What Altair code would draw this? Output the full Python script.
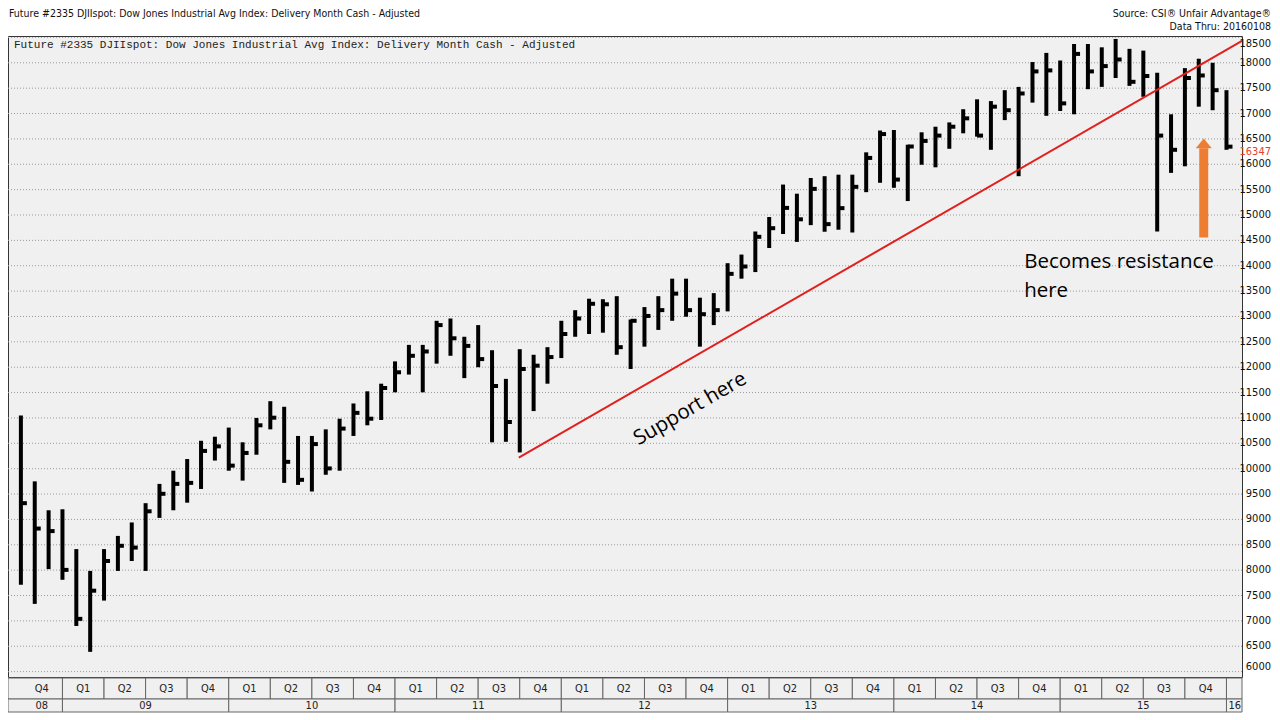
import altair as alt
import pandas as pd

# ---------------- data ----------------
months = [
    "2008-10", "2008-11", "2008-12",
    "2009-01", "2009-02", "2009-03", "2009-04", "2009-05", "2009-06",
    "2009-07", "2009-08", "2009-09", "2009-10", "2009-11", "2009-12",
    "2010-01", "2010-02", "2010-03", "2010-04", "2010-05", "2010-06",
    "2010-07", "2010-08", "2010-09", "2010-10", "2010-11", "2010-12",
    "2011-01", "2011-02", "2011-03", "2011-04", "2011-05", "2011-06",
    "2011-07", "2011-08", "2011-09", "2011-10", "2011-11", "2011-12",
    "2012-01", "2012-02", "2012-03", "2012-04", "2012-05", "2012-06",
    "2012-07", "2012-08", "2012-09", "2012-10", "2012-11", "2012-12",
    "2013-01", "2013-02", "2013-03", "2013-04", "2013-05", "2013-06",
    "2013-07", "2013-08", "2013-09", "2013-10", "2013-11", "2013-12",
    "2014-01", "2014-02", "2014-03", "2014-04", "2014-05", "2014-06",
    "2014-07", "2014-08", "2014-09", "2014-10", "2014-11", "2014-12",
    "2015-01", "2015-02", "2015-03", "2015-04", "2015-05", "2015-06",
    "2015-07", "2015-08", "2015-09", "2015-10", "2015-11", "2015-12",
    "2016-01",
]
highs = [
    11050, 9750, 9180,
    9200, 8415, 7985, 8415, 8675, 8940, 9320, 9700, 9960, 10190, 10550, 10630,
    10810, 10520, 11000, 11330, 11220, 10645, 10645, 10775, 10985, 11285, 11525, 11675,
    12115, 12440, 12440, 12915, 12960, 12600, 12830, 12335, 11770, 12355, 12245, 12395,
    12915, 13124, 13350, 13340, 13400, 12940, 13185, 13400, 13745, 13745, 13370, 13460,
    14050, 14220, 14675, 14960, 15600, 15420, 15730, 15765, 15795, 15795, 16235, 16665,
    16675, 16385, 16630, 16740, 16825, 17085, 17280, 17245, 17460, 17525, 18015, 18195,
    18045, 18370, 18370, 18305, 18470, 18275, 18240, 17805, 16985, 17895, 18080, 18000,
    17460,
]
lows = [
    7710, 7335, 8020,
    7810, 6900, 6390, 7400, 7985, 8180, 7985, 9030, 9180, 9330, 9600, 10160,
    9960, 9765, 10275, 10775, 9720, 9680, 9550, 9880, 9960, 10645, 10855, 10960,
    11505, 11855, 11505, 12070, 12225, 11785, 12000, 10520, 10530, 10320, 11135, 11675,
    12180, 12600, 12655, 12680, 12245, 11965, 12405, 12735, 12915, 12995, 12405, 12830,
    13100, 13745, 13875, 14350, 14625, 14470, 14800, 14670, 14710, 14655, 15450, 15635,
    15536, 15275, 15990, 15940, 16305, 16610, 16545, 16285, 16870, 15765, 17215, 16955,
    17050, 16985, 17480, 17525, 17700, 17545, 17330, 14675, 15830, 15960, 17135, 17065,
    16285,
]
closes = [
    9320, 8820, 8770,
    8005, 7040, 7595, 8180, 8480, 8445, 9160, 9505, 9700, 9720, 10350, 10440,
    10060, 10310, 10855, 11005, 10135, 9780, 10485, 10005, 10790, 11100, 10985, 11590,
    11900, 12225, 12310, 12830, 12570, 12420, 12160, 11630, 10920, 11965, 12030, 12200,
    12655, 12960, 13250, 13240, 12395, 12915, 13010, 13125, 13450, 13125, 13045, 13125,
    13840, 13985, 14570, 14740, 15140, 14915, 15515, 14820, 15135, 15555, 16125, 16595,
    15698, 16350, 16460, 16565, 16740, 16905, 16565, 17135, 17065, 17395, 17830, 17850,
    17200, 18175, 17830, 17935, 18065, 17625, 17740, 16565, 16285, 17700, 17750, 17460,
    16347,
]

quarter_labels = ["Q4"] + ["Q1", "Q2", "Q3", "Q4"] * 7
year_labels = ["08", "09", "10", "11", "12", "13", "14", "15", "16"]
y_ticks = list(range(6000, 18501, 500))
last_price = 16347

# support / resistance line (month index, price)
trend_idx = [35.93, 88.12]
trend_price = [10216, 18430]

title_left = "Future #2335 DJIIspot: Dow Jones Industrial Avg Index: Delivery Month Cash - Adjusted"
inner_title = "Future #2335 DJIIspot: Dow Jones Industrial Avg Index: Delivery Month Cash -  Adjusted"
source_1 = "Source: CSI\u00ae Unfair Advantage\u00ae"
source_2 = "Data Thru: 20160108"

support_text = "Support here"
support_pos = (48.3, 11180)
resist_lines = ["Becomes resistance", "here"]
resist_idx = 72.4
resist_prices = [13950, 13390]

arrow_idx = 85.36
arrow_bottom = 14558
arrow_head_base = 16318

# ---------------- layout ----------------
W, H = 1234, 641
X_MIN, X_MAX = -0.93, 88.12
Y_MIN, Y_MAX = 5894, 18528
NARROW = "'Liberation Sans Narrow', 'Arial Narrow', 'DejaVu Sans Condensed', sans-serif"
MONO = "'Liberation Mono', 'Courier New', monospace"
ANNOT = "'Open Sans', 'Noto Sans', sans-serif"
FS = 11
FS_HEAD = 10.5

xs = alt.Scale(domain=[X_MIN, X_MAX], nice=False, zero=False)
ys = alt.Scale(domain=[Y_MIN, Y_MAX], nice=False, zero=False)

df = pd.DataFrame({
    "month": months,
    "idx": list(range(len(months))),
    "high": highs,
    "low": lows,
    "close": closes,
})

# quarter cells
q_start = [i for i, m in enumerate(months) if int(m[5:]) in (1, 4, 7, 10)]
if 0 not in q_start:
    q_start = [0] + q_start
q_rows = []
for k, s in enumerate(q_start[: len(quarter_labels)]):
    q_rows.append({
        "start": X_MIN if k == 0 else s,
        "end": s + 3,
        "lx": s + 1.5,
        "label": quarter_labels[k],
    })
q_rows.append({"start": q_rows[-1]["end"], "end": X_MAX, "lx": None, "label": ""})
qdf = pd.DataFrame(q_rows)

y_start = [i for i, m in enumerate(months) if m.endswith("-01")]
y_rows = []
bounds = [X_MIN] + y_start + [X_MAX]
for k, lab in enumerate(year_labels):
    s, e = bounds[k], bounds[k + 1]
    if k == 0:
        lx, al = 1.5, "center"
    elif k == len(year_labels) - 1:
        lx, al = s, "left"
    else:
        lx, al = (s + e) / 2, "center"
    y_rows.append({"start": s, "end": e, "lx": lx, "label": lab, "al": al})
ydf = pd.DataFrame(y_rows)

X = lambda f: alt.X(f, type="quantitative", scale=xs, axis=None)
Y = lambda f: alt.Y(f, type="quantitative", scale=ys, axis=None)

# price grid and labels (right side)
gdf = pd.DataFrame({"v": y_ticks, "t": [str(v) for v in y_ticks]})
grid = alt.Chart(gdf).mark_rule(color="#9a9a9a", strokeDash=[1, 2], strokeWidth=1).encode(
    x=alt.value(0), x2=alt.value(W), y=Y("v"),
)
lab_mid = alt.Chart(gdf).transform_filter(
    f"datum.v > {min(y_ticks)} && datum.v < {max(y_ticks)}"
).mark_text(font=NARROW, fontSize=FS, color="#111111", align="right", baseline="middle").encode(
    x=alt.value(W + 29), y=Y("v"), text="t:N",
)
lab_top = alt.Chart(gdf).transform_filter(f"datum.v == {max(y_ticks)}").mark_text(
    font=NARROW, fontSize=FS, color="#111111", align="right", baseline="top", dy=1,
).encode(x=alt.value(W + 29), y=Y("v"), text="t:N")
lab_bot = alt.Chart(gdf).transform_filter(f"datum.v == {min(y_ticks)}").mark_text(
    font=NARROW, fontSize=FS, color="#111111", align="right", baseline="bottom",
).encode(x=alt.value(W + 29), y=Y("v"), text="t:N")

bars = alt.Chart(df).mark_rule(strokeWidth=4, color="#000000").encode(
    x=X("idx"), y=Y("low"), y2="high:Q",
)
ticks = alt.Chart(df).mark_rule(strokeWidth=4, color="#000000", x2Offset=6).encode(
    x=X("idx"), x2="idx:Q", y=Y("close"), y2="close:Q",
)

tdf = pd.DataFrame({"x1": [trend_idx[0]], "x2": [trend_idx[1]],
                    "y1": [trend_price[0]], "y2": [trend_price[1]]})
trend = alt.Chart(tdf).mark_rule(strokeWidth=2, color="#E0201E").encode(
    x=X("x1"), x2="x2:Q", y=Y("y1"), y2="y2:Q",
)

sdf = pd.DataFrame({"x": [support_pos[0]], "y": [support_pos[1]], "t": [support_text]})
support = alt.Chart(sdf).mark_text(
    angle=330, font=ANNOT, fontSize=20.5, color="#000000", align="center", baseline="middle",
).encode(x=X("x"), y=Y("y"), text="t:N")

rdf = pd.DataFrame({"x": [resist_idx] * 2, "y": resist_prices, "t": resist_lines})
resist = alt.Chart(rdf).mark_text(
    font=ANNOT, fontSize=20.5, color="#000000", align="left", baseline="alphabetic",
).encode(x=X("x"), y=Y("y"), text="t:N")

adf = pd.DataFrame({"x": [arrow_idx], "y1": [arrow_bottom], "y2": [arrow_head_base]})
shaft = alt.Chart(adf).mark_rule(strokeWidth=9, color="#ED7D31").encode(
    x=X("x"), y=Y("y1"), y2="y2:Q",
)
head = alt.Chart(adf).mark_point(
    shape="M-1,0L1,0L0,-1.2Z", size=256, filled=True, color="#ED7D31", opacity=1, strokeWidth=0,
).encode(x=X("x"), y=Y("y2"))

ldf = pd.DataFrame({"y": [last_price], "t": [str(last_price)]})
last_lbl = alt.Chart(ldf).mark_text(
    font=NARROW, fontSize=FS, color="#E8402A", align="right", baseline="middle", dy=5,
).encode(x=alt.value(W + 29), y=Y("y"), text="t:N")

# bottom date axis
q_cells = alt.Chart(qdf).mark_rect(fill="#F0F0F0", stroke="#666666", strokeWidth=1).encode(
    x=X("start"), x2="end:Q", y=alt.value(H + 1), y2=alt.value(H + 22),
)
q_text = alt.Chart(qdf).transform_filter("datum.label != ''").mark_text(
    font=NARROW, fontSize=FS, color="#222222", baseline="middle",
).encode(x=X("lx"), y=alt.value(H + 12), text="label:N")
y_cells = alt.Chart(ydf).mark_rect(fill="#F0F0F0", stroke="#666666", strokeWidth=1).encode(
    x=X("start"), x2="end:Q", y=alt.value(H + 22), y2=alt.value(H + 35),
)
y_text_c = alt.Chart(ydf).transform_filter("datum.al == 'center'").mark_text(
    font=NARROW, fontSize=FS, color="#222222", baseline="middle", align="center",
).encode(x=X("lx"), y=alt.value(H + 29), text="label:N")
y_text_l = alt.Chart(ydf).transform_filter("datum.al == 'left'").mark_text(
    font=NARROW, fontSize=FS, color="#222222", baseline="middle", align="left", dx=2,
).encode(x=X("lx"), y=alt.value(H + 29), text="label:N")

# header texts
hdf = pd.DataFrame({"t": [title_left]})
h_left = alt.Chart(hdf).mark_text(
    font=NARROW, fontSize=FS_HEAD, color="#111111", align="left", baseline="middle",
).encode(x=alt.value(1), y=alt.value(-22), text="t:N")
sdf1 = pd.DataFrame({"t": [source_1]})
h_src1 = alt.Chart(sdf1).mark_text(
    font=NARROW, fontSize=FS_HEAD, color="#111111", align="right", baseline="middle",
).encode(x=alt.value(1263), y=alt.value(-22), text="t:N")
sdf2 = pd.DataFrame({"t": [source_2]})
h_src2 = alt.Chart(sdf2).mark_text(
    font=NARROW, fontSize=FS_HEAD, color="#111111", align="right", baseline="middle",
).encode(x=alt.value(1263), y=alt.value(-9), text="t:N")
idf = pd.DataFrame({"t": [inner_title]})
h_inner = alt.Chart(idf).mark_text(
    font=MONO, fontSize=11, color="#222222", align="left", baseline="middle",
).encode(x=alt.value(6), y=alt.value(9), text="t:N")

chart = alt.layer(
    grid, bars, ticks, trend, support, resist, shaft, head,
    lab_mid, lab_top, lab_bot, last_lbl,
    q_cells, q_text, y_cells, y_text_c, y_text_l,
    h_left, h_src1, h_src2, h_inner,
).properties(
    width=W, height=H,
    padding={"left": 0, "top": 28, "right": 30, "bottom": 36},
    autosize=alt.AutoSizeParams(type="none"),
).configure(background="#FFFFFF").configure_view(
    fill="#F0F0F0", stroke="#333333", strokeWidth=1,
)

chart.save("out.html", embed_options={"renderer": "svg", "actions": False})
